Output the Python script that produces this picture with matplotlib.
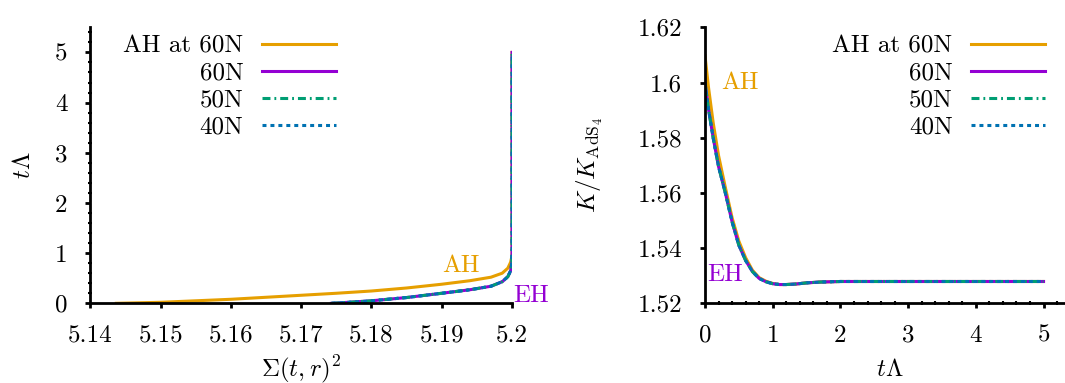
import matplotlib
matplotlib.use('Agg')
import matplotlib.pyplot as plt
from matplotlib.ticker import FuncFormatter, MultipleLocator

# Computer Modern look for all text
plt.rcParams['font.family'] = 'serif'
plt.rcParams['font.serif'] = ['cmr10']
plt.rcParams['mathtext.fontset'] = 'cm'
plt.rcParams['axes.formatter.use_mathtext'] = True
plt.rcParams['axes.unicode_minus'] = False
plt.rcParams['font.size'] = 18

# --- left panel: horizon position Sigma^2 vs time ---
ah_sigma2 = [5.1437, 5.15, 5.155, 5.16, 5.165, 5.17, 5.175, 5.18, 5.185,
             5.19, 5.194, 5.197, 5.1986, 5.1994, 5.1998, 5.2, 5.2, 5.2]
ah_tl = [0.0, 0.02, 0.05, 0.08, 0.12, 0.16, 0.2, 0.245, 0.305,
         0.38, 0.45, 0.52, 0.6, 0.7, 0.82, 0.95, 2.0, 5.0]

eh_sigma2 = [5.1743, 5.177, 5.18, 5.185, 5.19, 5.194, 5.197, 5.1986,
             5.1994, 5.1998, 5.19995, 5.2, 5.2, 5.2]
eh_tl = [0.0, 0.022, 0.05, 0.115, 0.2, 0.27, 0.34, 0.43,
         0.53, 0.65, 0.8, 1.0, 2.0, 5.0]

# --- right panel: curvature ratio vs time ---
time = [0.0, 0.05, 0.12, 0.2, 0.3, 0.4, 0.5, 0.6, 0.7, 0.8, 0.9, 1.0,
        1.1, 1.2, 1.35, 1.5, 1.7, 2.0, 2.5, 3.0, 4.0, 5.0]
ah_k = [1.6097, 1.5985, 1.5855, 1.5735, 1.562, 1.551, 1.5425, 1.5365,
        1.532, 1.5293, 1.528, 1.5272, 1.5268, 1.5268, 1.527, 1.5274,
        1.5277, 1.5279, 1.5279, 1.5279, 1.5279, 1.5279]
eh_k = [1.6, 1.5905, 1.58, 1.5695, 1.56, 1.5495, 1.541, 1.5355,
        1.5315, 1.529, 1.5278, 1.5271, 1.5268, 1.5268, 1.527, 1.5274,
        1.5277, 1.5279, 1.5279, 1.5279, 1.5279, 1.5279]

resolutions = ['60N', '50N', '40N']
colors = {'AH': '#E69F00', '60N': '#9400D3', '50N': '#009E73', '40N': '#0072B2'}
styles = {'60N': '-', '50N': (0, (2.6, 1.3, 0.6, 1.3)), '40N': (0, (1.3, 1.3))}
lw = 2.2


def style_axes(ax):
    for side in ('top', 'right'):
        ax.spines[side].set_visible(False)
    for side in ('left', 'bottom'):
        ax.spines[side].set_linewidth(2.0)
    ax.tick_params(which='major', direction='out', length=3.5, width=2.0)
    ax.tick_params(which='minor', direction='inout', length=3, width=1.5)
    ax.tick_params(axis='x', which='major', pad=12)
    ax.tick_params(axis='y', which='major', pad=13)
    fmt = FuncFormatter(lambda v, pos: '%g' % round(v, 6))
    ax.xaxis.set_major_formatter(fmt)
    ax.yaxis.set_major_formatter(fmt)


def add_legend(ax, x_fig, y_fig):
    ax.legend(loc='upper right', bbox_to_anchor=(x_fig, y_fig),
              bbox_transform=ax.figure.transFigure, frameon=False,
              markerfirst=False, handlelength=2.95, handletextpad=0.75,
              labelspacing=0.18, borderpad=0, borderaxespad=0)


fig = plt.figure(figsize=(10.65, 3.83), dpi=100)
ax1 = fig.add_axes([0.0848, 0.2081, 0.396, 0.7206])
ax2 = fig.add_axes([0.662, 0.2081, 0.3369, 0.7206])

# left panel
ax1.plot(ah_sigma2, ah_tl, color=colors['AH'], lw=lw, label='AH at 60N')
for res in resolutions:
    ax1.plot(eh_sigma2, eh_tl, color=colors[res], ls=styles[res], lw=lw, label=res)
ax1.set_xlim(5.14, 5.2)
ax1.set_ylim(0, 5.5)
ax1.xaxis.set_major_locator(MultipleLocator(0.01))
ax1.yaxis.set_major_locator(MultipleLocator(1))
ax1.yaxis.set_minor_locator(MultipleLocator(0.2))
style_axes(ax1)
ax1.set_xlabel(r'$\Sigma(t,r)^2$', va='center')
ax1.xaxis.set_label_coords(0.5, -0.24)
ax1.set_ylabel(r'$t\Lambda$', va='center')
ax1.yaxis.set_label_coords(-0.157, 0.5)
ax1.text(5.1927, 0.63, 'AH', color=colors['AH'], ha='center', va='baseline')
ax1.text(5.2002, 0.03, 'EH', color=colors['60N'], ha='left', va='baseline')
add_legend(ax1, 336 / 1065, 1 - 35 / 383)

# right panel
ax2.plot(time, ah_k, color=colors['AH'], lw=lw, label='AH at 60N')
for res in resolutions:
    ax2.plot(time, eh_k, color=colors[res], ls=styles[res], lw=lw, label=res)
ax2.set_xlim(0, 5.3)
ax2.set_ylim(1.52, 1.62)
ax2.xaxis.set_major_locator(MultipleLocator(1))
ax2.xaxis.set_minor_locator(MultipleLocator(0.2))
ax2.yaxis.set_major_locator(MultipleLocator(0.02))
style_axes(ax2)
ax2.set_xlabel(r'$t\Lambda$', va='center')
ax2.xaxis.set_label_coords(0.516, -0.24)
ax2.set_ylabel(r'$K/K_{\mathrm{AdS}_4}$', va='center')
ax2.yaxis.set_label_coords(-0.32, 0.5)
ax2.text(0.517, 1.5978, 'AH', color=colors['AH'], ha='center', va='baseline')
ax2.text(0.025, 1.5279, 'EH', color=colors['60N'], ha='left', va='baseline')
add_legend(ax2, 1045 / 1065, 1 - 35 / 383)

fig.savefig('out.png', dpi=100)
